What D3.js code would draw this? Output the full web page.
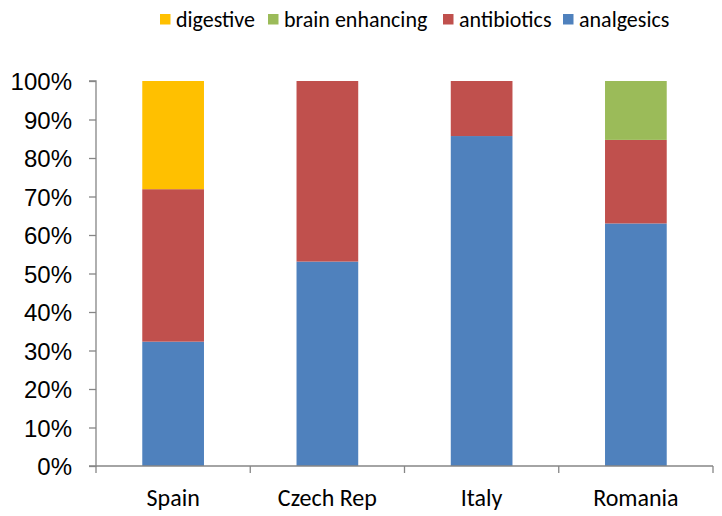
<!DOCTYPE html>
<html><head><meta charset="utf-8">
<script src="https://cdn.jsdelivr.net/npm/d3@7"></script>
<style>body{margin:0;background:#fff}svg{display:block}</style>
</head><body>
<svg id="c" width="722" height="516"></svg>
<script>
const categories = ["Spain", "Czech Rep", "Italy", "Romania"];
const seriesNames = ["analgesics", "antibiotics", "brain enhancing", "digestive"];
const analgesics = [32.3, 53.1, 85.7, 63.0];
const antibiotics = [39.6, 46.9, 14.3, 21.7];
const brainEnhancing = [0, 0, 0, 15.3];
const digestive = [28.1, 0, 0, 0];
const yTicks = [0, 10, 20, 30, 40, 50, 60, 70, 80, 90, 100];
const colors = {"analgesics":"#4F81BD","antibiotics":"#C0504D","brain enhancing":"#9BBB59","digestive":"#FFC000"};
const legendOrder = ["digestive", "brain enhancing", "antibiotics", "analgesics"];

const svg = d3.select("#c");
const x0 = 96, x1 = 713, yTop = 81, yBot = 466;
const x = d3.scaleBand().domain(categories).range([x0, x1]).paddingInner(0.6).paddingOuter(0.3);
const y = d3.scaleLinear().domain([0, 100]).range([yBot, yTop]);

const table = categories.map((c, i) => ({cat: c, "analgesics": analgesics[i], "antibiotics": antibiotics[i], "brain enhancing": brainEnhancing[i], "digestive": digestive[i]}));
const stacked = d3.stack().keys(seriesNames)(table);

svg.append("g").selectAll("g").data(stacked).join("g")
  .attr("fill", d => colors[d.key])
  .selectAll("rect").data(d => d.filter(p => p[1] - p[0] > 0)).join("rect")
  .attr("x", d => x(d.data.cat))
  .attr("width", x.bandwidth())
  .attr("y", d => y(d[1]))
  .attr("height", d => y(d[0]) - y(d[1]));

const axisColor = "#868686";
// y axis
const yAxis = svg.append("g").attr("transform", `translate(${x0},0)`)
  .call(d3.axisLeft(y).tickValues(yTicks).tickSize(7).tickPadding(17).tickFormat(d => d + "%"));
yAxis.select(".domain").attr("stroke", axisColor).attr("stroke-width", 1.3).attr("d", `M-7,${yTop}H0V${yBot}H-7`);
yAxis.selectAll(".tick line").attr("stroke", axisColor).attr("stroke-width", 1.3);
yAxis.selectAll(".tick text").attr("fill", "#000").style("font-family", "'Liberation Sans', Arial, sans-serif").style("font-size", "24px").attr("dy", "0.36em");

// x axis
const step = x.step();
const xBounds = d3.range(categories.length + 1).map(i => x0 + i * step);
const xg = svg.append("g");
xg.append("line").attr("x1", x0).attr("x2", x1).attr("y1", yBot).attr("y2", yBot).attr("stroke", axisColor).attr("stroke-width", 1.3);
xg.selectAll("line.t").data(xBounds).join("line").attr("class", "t")
  .attr("x1", d => d).attr("x2", d => d).attr("y1", yBot).attr("y2", yBot + 7)
  .attr("stroke", axisColor).attr("stroke-width", 1.3);
xg.selectAll("text").data(categories).join("text")
  .attr("x", d => x(d) + x.bandwidth() / 2).attr("y", 506)
  .attr("text-anchor", "middle")
  .style("font-family", "Carlito, Lato, 'Open Sans', sans-serif").style("font-size", "24px")
  .text(d => d);

// legend
const legendX = [160, 268, 443, 563];
const lg = svg.append("g");
legendOrder.forEach((k, i) => {
  lg.append("rect").attr("x", legendX[i]).attr("y", 14).attr("width", 10.5).attr("height", 10.5).attr("fill", colors[k]);
  lg.append("text").attr("x", legendX[i] + 16).attr("y", 27)
    .style("font-family", "Carlito, Lato, 'Open Sans', sans-serif").style("font-size", "22px").text(k);
});
</script>
</body></html>
